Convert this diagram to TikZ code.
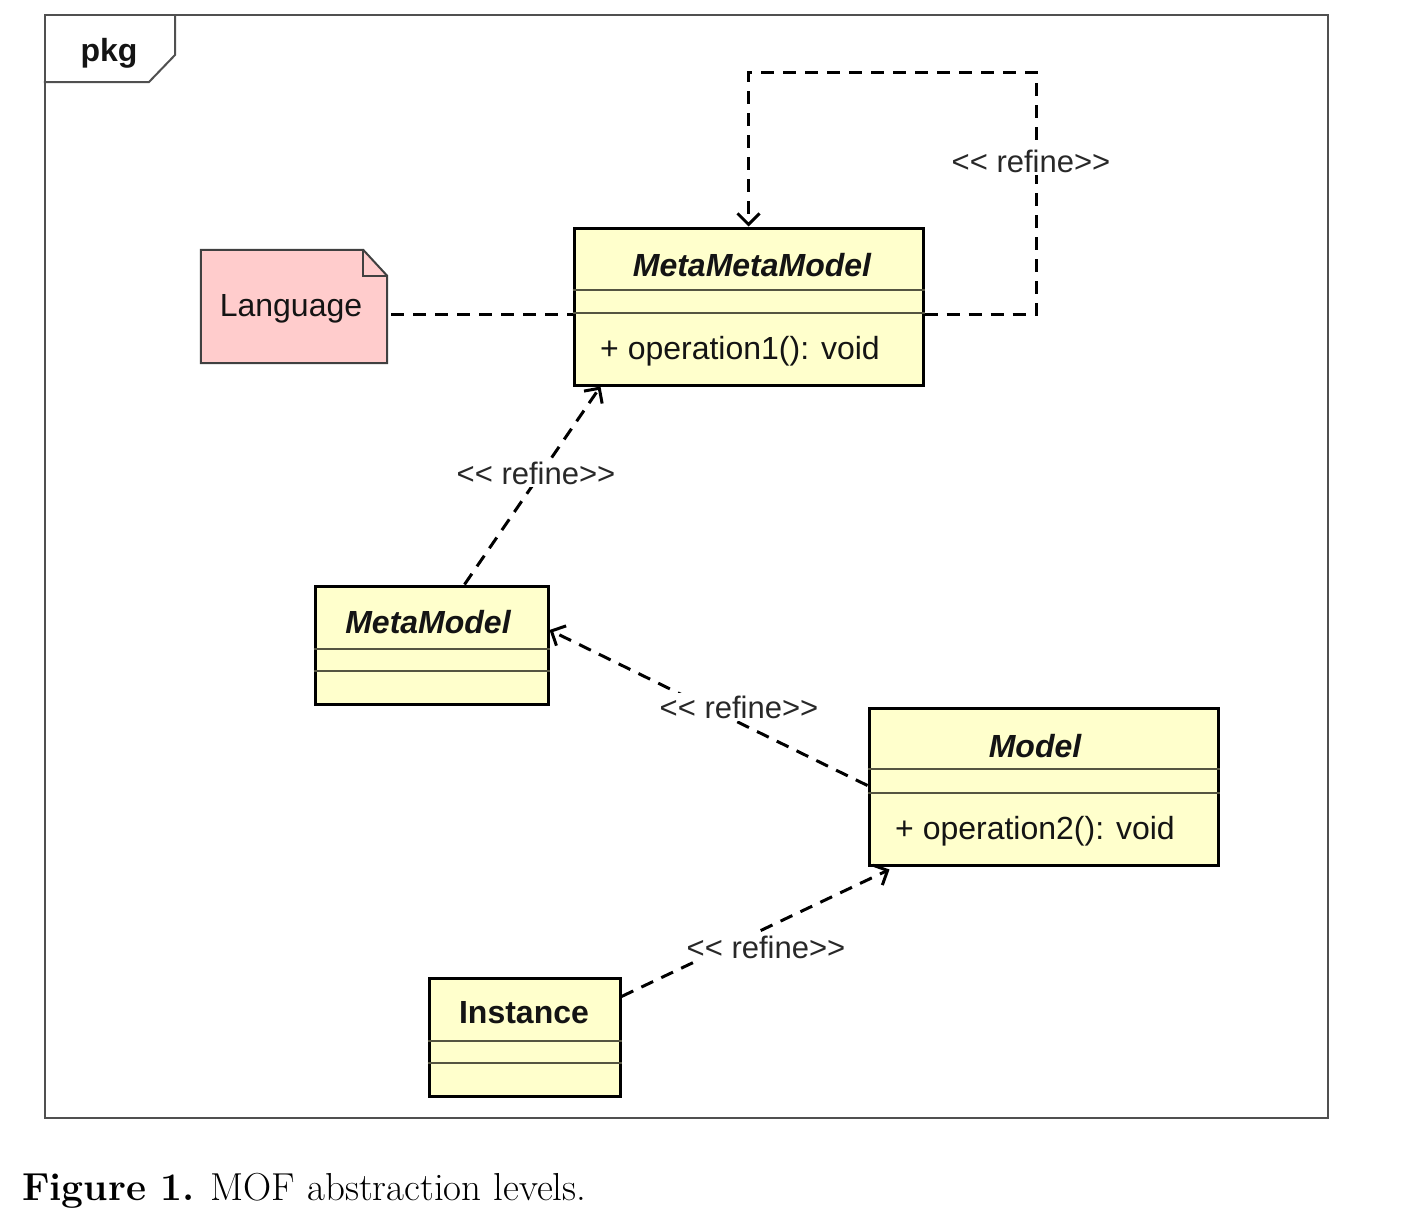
\documentclass[tikz,border=0pt]{standalone}
\usepackage{fontspec}
\setsansfont{Liberation Sans}
\usetikzlibrary{arrows.meta,calc}
\definecolor{boxyellow}{RGB}{255,255,204}
\definecolor{notepink}{RGB}{255,204,204}
\definecolor{framecol}{RGB}{80,80,80}
\definecolor{dividercol}{RGB}{85,85,65}
\definecolor{labelcol}{RGB}{40,40,40}
\definecolor{textcol}{RGB}{20,20,20}
\newcommand{\refinetext}{<\kern0pt< refine>\kern0pt>}
\begin{document}
\begin{tikzpicture}[x=1pt,y=-1pt,
  every node/.style={font=\sffamily\fontsize{32}{38}\selectfont, inner sep=0pt, text=textcol},
  umlbox/.style={draw=black, line width=3pt, fill=boxyellow, rectangle},
  divider/.style={draw=dividercol, line width=2pt},
  dep/.style={draw=black, line width=3pt, dash pattern=on 13pt off 9pt, -{Straight Barb[length=11pt,width=22pt]}},
  plaindep/.style={draw=black, line width=3pt, dash pattern=on 13pt off 9pt},
  lbl/.style={fill=white, text=labelcol, font=\sffamily\fontsize{31}{36}\selectfont, inner sep=3pt},
  titlebi/.style={font=\sffamily\bfseries\itshape\fontsize{32}{38}\selectfont},
  titleb/.style={font=\sffamily\bfseries\fontsize{32}{38}\selectfont},
]
\useasboundingbox (0,0) rectangle (1419,1226);
\fill[white] (0,0) rectangle (1419,1226);

% package frame
\node[draw=framecol, line width=2.5pt, minimum width=1283pt, minimum height=1103pt] (frame) at (686.5,566.5) {};
\draw[draw=framecol, line width=2pt] (frame.north west |- 0,82) -- (149,82) -- (175,55) -- (175,15);
\node[titleb] (pkg) at (109,53) {pkg};

% Language note
\node[minimum width=186pt, minimum height=113pt] (lang) at (294,306.5) {};
\draw[draw=framecol!80!black, line width=2pt, fill=notepink]
  (lang.north west) -- ($(lang.north east)+(-24,0)$) -- ($(lang.north east)+(0,26)$)
  -- (lang.south east) -- (lang.south west) -- cycle;
\draw[draw=framecol!80!black, line width=2pt]
  ($(lang.north east)+(-24,0)$) -- ($(lang.north east)+(-24,26)$) -- ($(lang.north east)+(0,26)$);
\node (langt) at (291,309) {Language};

% MetaMetaModel
\node[umlbox, minimum width=349pt, minimum height=157pt] (mmm) at (748.5,306.5) {};
\draw[divider] ($(mmm.north west)+(0,63)$) -- ($(mmm.north east)+(0,63)$);
\draw[divider] ($(mmm.north west)+(0,86)$) -- ($(mmm.north east)+(0,86)$);
\node[titlebi] (mmmt) at (752,265) {MetaMetaModel};
\node[anchor=west] (mmmo) at (600,351) {+ operation1(): void};

% MetaModel
\node[umlbox, minimum width=233pt, minimum height=118pt] (mm) at (431.5,645) {};
\draw[divider] ($(mm.north west)+(0,64)$) -- ($(mm.north east)+(0,64)$);
\draw[divider] ($(mm.north west)+(0,86)$) -- ($(mm.north east)+(0,86)$);
\node[titlebi] (mmt) at (428,622) {MetaModel};

% Model
\node[umlbox, minimum width=349pt, minimum height=157pt] (model) at (1043.5,786.5) {};
\draw[divider] ($(model.north west)+(0,62)$) -- ($(model.north east)+(0,62)$);
\draw[divider] ($(model.north west)+(0,86)$) -- ($(model.north east)+(0,86)$);
\node[titlebi] (modelt) at (1035,746) {Model};
\node[anchor=west] (modelo) at (895,831) {+ operation2(): void};

% Instance
\node[umlbox, minimum width=191pt, minimum height=118pt] (inst) at (524.5,1037) {};
\draw[divider] ($(inst.north west)+(0,64)$) -- ($(inst.north east)+(0,64)$);
\draw[divider] ($(inst.north west)+(0,86)$) -- ($(inst.north east)+(0,86)$);
\node[titleb] (instt) at (524,1013) {Instance};

% connectors
\draw[plaindep] ($(lang.east)+(4,7.5)$) -- ($(mmm.west)+(0,7.5)$);

\coordinate (loopA) at (1036,314);
\coordinate (loopB) at (1036,72);
\coordinate (loopC) at (748.5,72);
\draw[dep] ($(mmm.east)+(0,7.5)$) -- (loopA) -- (loopB) -- (loopC) -- (mmm.north);
\node[lbl] (l1) at (1031,161) {\refinetext};

\draw[dep] ($(mm.north)+(33,0)$) -- ($(mmm.south west)+(28,0)$);
\node[lbl] (l2) at (536,473) {\refinetext};

\draw[dep] ($(model.west)+(0,-1)$) -- ($(mm.east)+(0,-15)$);
\node[lbl] (l3) at (739,707) {\refinetext};

\draw[dep] ($(inst.north east)+(0,20)$) -- ($(model.south west)+(22,3)$);
\node[lbl] (l4) at (766,947) {\refinetext};

% caption
\node[anchor=base west, font=\rmfamily\fontsize{39}{46}\selectfont, text=black] (cap) at (22,1200) {\textbf{Figure 1.} MOF abstraction levels.};
\end{tikzpicture}
\end{document}
